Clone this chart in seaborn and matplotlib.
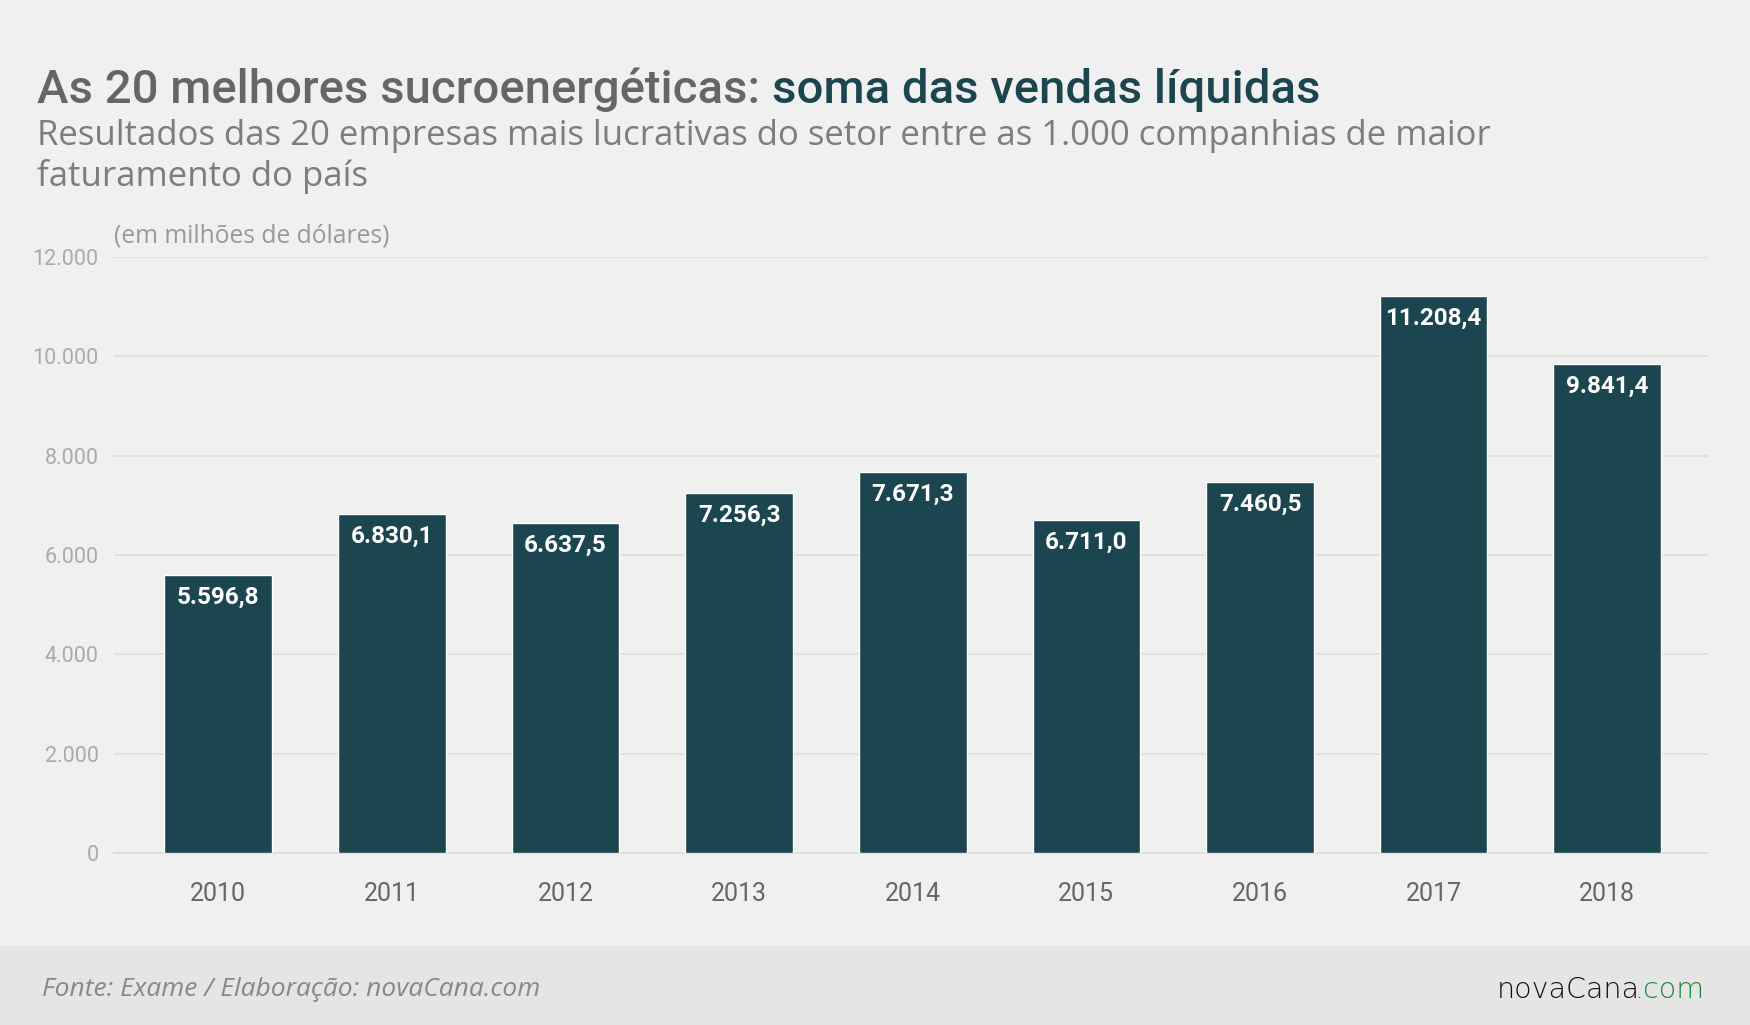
import matplotlib
matplotlib.use("Agg")
from matplotlib import pyplot as plt
from matplotlib.patches import Rectangle
import seaborn as sns
import pandas as pd

years = ["2010", "2011", "2012", "2013", "2014", "2015", "2016", "2017", "2018"]
sales = [5596.8, 6830.1, 6637.5, 7256.3, 7671.3, 6711.0, 7460.5, 11208.4, 9841.4]
yticks = [0, 2000, 4000, 6000, 8000, 10000, 12000]

title_a = "As 20 melhores sucroenergéticas: "
title_b = "soma das vendas líquidas"
subtitle_1 = "Resultados das 20 empresas mais lucrativas do setor entre as 1.000 companhias de maior"
subtitle_2 = "faturamento do país"
unit_note = "(em milhões de dólares)"
source = "Fonte: Exame / Elaboração: novaCana.com"

BG = "#f0f0f0"
TEAL = "#1b4650"
W, H = 1750, 1025


def br(v, dec=1):
    s = f"{v:,.{dec}f}"
    return s.replace(",", "X").replace(".", ",").replace("X", ".")


def fx(px):
    return px / W


def fy(py):
    return 1 - py / H


sns.set_style("white")
plt.rcParams["font.family"] = ["Roboto", "DejaVu Sans"]

df = pd.DataFrame({"ano": years, "vendas": sales})

fig = plt.figure(figsize=(17.5, 10.25), dpi=100, facecolor=BG)
fig.add_artist(Rectangle((0, 0), 1, fy(946), transform=fig.transFigure,
                         facecolor="#e5e5e5", edgecolor="none", zorder=0))

ax = fig.add_axes([fx(114), fy(853), fx(1708) - fx(114), fy(257) - fy(853)])
ax.set_facecolor(BG)
sns.barplot(data=df, x="ano", y="vendas", color=TEAL, width=0.62,
            saturation=1, ax=ax, zorder=3)

ax.set_ylim(0, 12000)
ax.set_xlim(-0.6, 8.58)
ax.set_yticks(yticks)
ax.set_yticklabels([br(t, 0) for t in yticks])
ax.yaxis.grid(True, color="#dddddd", linewidth=1.2, zorder=0)
for s in ["top", "right", "left"]:
    ax.spines[s].set_visible(False)
ax.spines["bottom"].set_color("#dddddd")
ax.spines["bottom"].set_linewidth(1.2)
ax.tick_params(axis="y", length=0, pad=11, labelsize=15.5, labelcolor="#aaaaaa")
ax.tick_params(axis="x", length=0, pad=21, labelsize=18, labelcolor="#666666")
ax.set_xlabel("")
ax.set_ylabel("")

for i, v in enumerate(sales):
    ax.annotate(br(v), (i, v), xytext=(0, -16), textcoords="offset points",
                ha="center", va="center", color="white", fontsize=17.5,
                fontweight="bold", zorder=5)

t1 = fig.text(fx(37), fy(103), title_a, fontsize=34, fontweight="medium",
              color="#666666", va="baseline", ha="left")
fig.canvas.draw()
r = fig.canvas.get_renderer()
bb = t1.get_window_extent(r)
fig.text(bb.x1 / W, fy(103), title_b, fontsize=34, fontweight="medium",
         color=TEAL, va="baseline", ha="left")

for line, base in [(subtitle_1, 145), (subtitle_2, 186)]:
    fig.text(fx(37), fy(base), line, fontsize=25, family="Open Sans",
             color="#7d7d7d", va="baseline", ha="left")

fig.text(fx(114), fy(236), unit_note, fontsize=17.7, family="Open Sans",
         color="#999999", va="center", ha="left")

fig.text(fx(42), fy(990), source, fontsize=19, style="italic",
         family="Open Sans", color="#888888", va="center", ha="left")

com = fig.text(fx(1704), fy(990), ".com", fontsize=20.5, fontweight="light",
               family="DejaVu Sans", color="#1a8a3a", va="center", ha="right")
fig.canvas.draw()
cb = com.get_window_extent(fig.canvas.get_renderer())
fig.text((cb.x0 + 6) / W, fy(990), "novaCana", fontsize=20.5, fontweight="light",
         family="DejaVu Sans", color="#111111", va="center", ha="right")

fig.savefig("out.png", dpi=100, facecolor=BG)
